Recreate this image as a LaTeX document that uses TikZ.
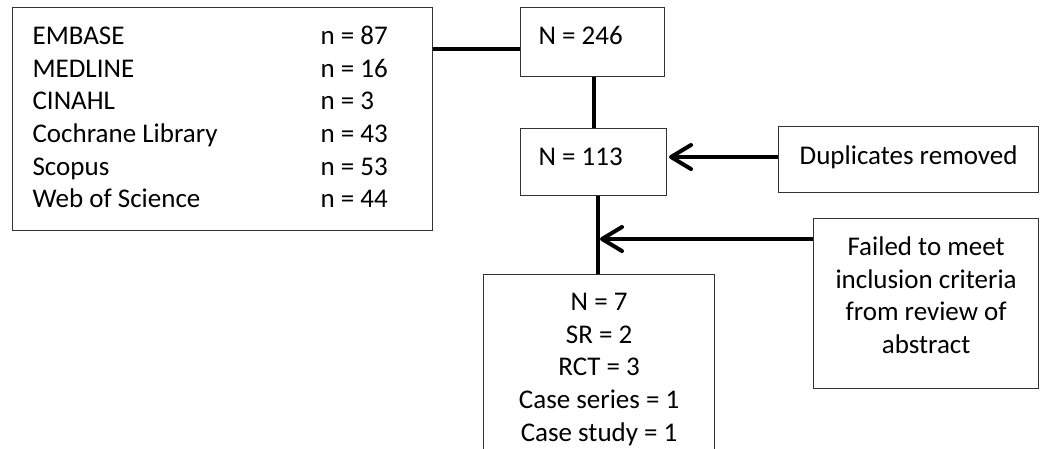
\documentclass[tikz,border=0pt]{standalone}
\usepackage{fontspec}
\setmainfont{Carlito}
\usetikzlibrary{arrows.meta}
\begin{document}
\begin{tikzpicture}[x=1pt,y=-1pt,
  box/.style={draw=black!80, line width=1.2pt, rectangle, inner sep=0pt, font=\fontsize{27}{32.6}\selectfont},
  conn/.style={line width=4pt},
  arr/.style={conn, -{Straight Barb[length=20pt,width=24pt,round]}}]
\clip (0,0) rectangle (1040,448);
\node[box, anchor=north west, minimum width=420pt, minimum height=223pt, text height=37pt, text depth=186pt] (src) at (12,7)
  {\begin{tabular}[t]{@{}p{288pt}@{}p{92pt}@{}}
   EMBASE & n = 87\\
   MEDLINE & n = 16\\
   CINAHL & n = 3\\
   Cochrane Library & n = 43\\
   Scopus & n = 53\\
   Web of Science & n = 44
  \end{tabular}};
\node[box, anchor=north west, minimum width=144pt, minimum height=69pt, text height=37pt, text depth=32pt] (n246) at (520,7) {\makebox[108pt][l]{N = 246}};
\node[box, anchor=north west, minimum width=146pt, minimum height=67pt, text height=37pt, text depth=30pt] (n113) at (520,128) {\makebox[110pt][l]{N = 113}};
\node[box, anchor=north west, minimum width=260pt, minimum height=66pt, text height=38pt, text depth=28pt] (dup) at (778,126) {Duplicates removed};
\node[box, anchor=north west, minimum width=225pt, minimum height=170pt, text height=37pt, text depth=133pt] (failed) at (813,218)
  {\begin{tabular}[t]{@{}c@{}}Failed to meet\\ inclusion criteria\\ from review of\\ abstract\end{tabular}};
\node[box, anchor=north west, minimum width=231pt, minimum height=200pt, text height=36pt, text depth=164pt] (n7) at (483,274)
  {\begin{tabular}[t]{@{}c@{}}N = 7\\ SR = 2\\ RCT = 3\\ Case series = 1\\ Case study = 1\end{tabular}};
\coordinate (ysrc) at (0,49);
\coordinate (x1) at (594,0);
\coordinate (x2) at (598,0);
\coordinate (tipdup) at (669,157);
\coordinate (tipfail) at (600,239);
\draw[conn] (src.east |- ysrc) -- (n246.west |- ysrc);
\draw[conn] (n246.south -| x1) -- (n113.north -| x1);
\draw[arr] (dup.west |- tipdup) -- (tipdup);
\draw[conn] (n113.south -| x2) -- (n7.north -| x2);
\draw[arr] (failed.west |- tipfail) -- (tipfail);
\end{tikzpicture}
\end{document}
